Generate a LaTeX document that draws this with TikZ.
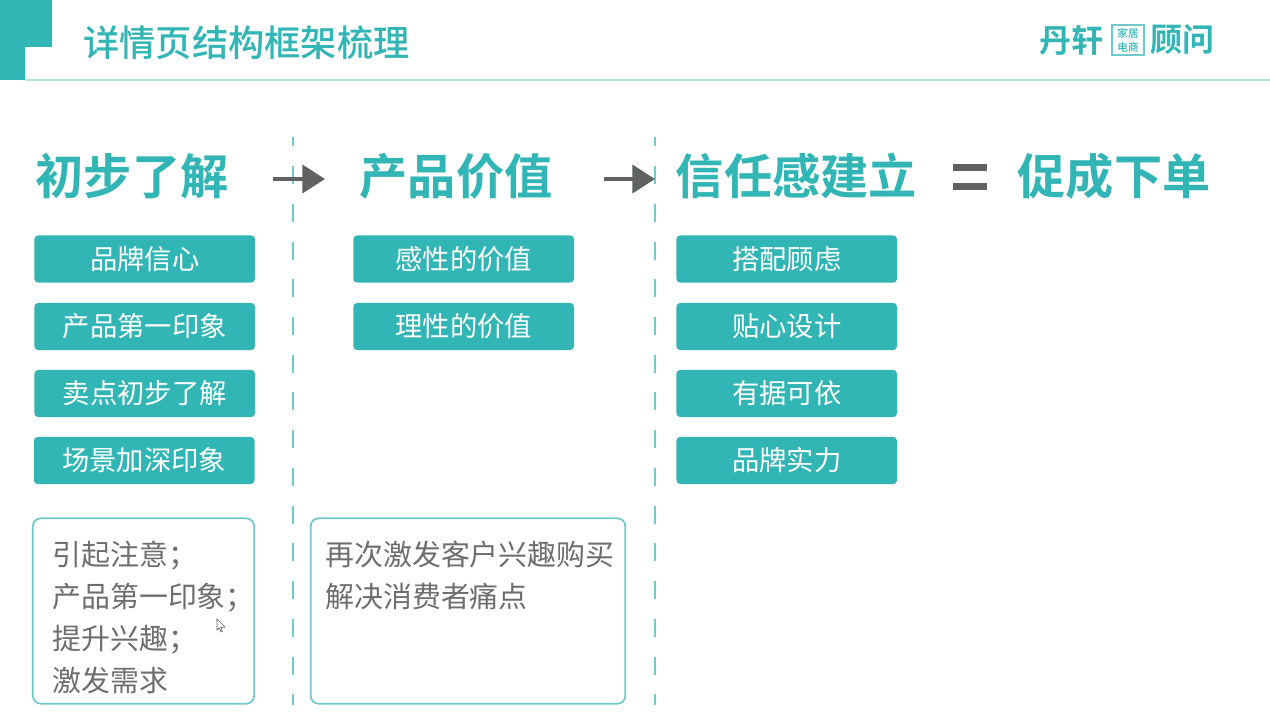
\documentclass[tikz,border=0pt]{standalone}
\usepackage{fontspec}
\usetikzlibrary{arrows.meta}
\setmainfont{Noto Sans CJK SC}[BoldFont={Noto Sans CJK SC Bold}]
\newfontfamily\medcjk{Noto Sans CJK SC Medium}
\definecolor{teal1}{HTML}{32B5B5}
\definecolor{rule1}{HTML}{B5E3E3}
\definecolor{edge1}{HTML}{6FC9CB}
\definecolor{dash1}{HTML}{6CCBCD}
\definecolor{gray1}{HTML}{5F6260}
\definecolor{text1}{HTML}{6E6E6E}
\tikzset{
  x=0.75pt,y=-0.75pt,
  head/.style={font=\fontsize{36.2}{36.2}\selectfont\bfseries,text=teal1,inner sep=0pt},
  tag/.style={fill=teal1,rounded corners=3pt,minimum width=165.5pt,minimum height=35.5pt,inner sep=0pt,text=white,font=\fontsize{20.5}{20.5}\selectfont},
  notebox/.style={draw=edge1,line width=1.3pt,fill=white,rounded corners=6pt,inner sep=0pt},
  note/.style={text=text1,font=\fontsize{21.7}{31.5}\selectfont,inner sep=0pt,anchor=north west,align=left},
  divider/.style={draw=dash1,line width=1.5pt,dash pattern=on 13.5pt off 14.8pt,dash phase=6.5pt},
  flow/.style={draw=gray1,line width=3pt,-{Triangle[length=17pt,width=21pt]},shorten >=0pt},
}
\begin{document}
\begin{tikzpicture}
\useasboundingbox (0,0) rectangle (1270,717);
\fill[white] (0,0) rectangle (1270,717);
% header
\fill[teal1] (0,0) -- (52,0) -- (52,47) -- (25,47) -- (25,80) -- (0,80) -- cycle;
\draw[rule1,line width=1.2pt] (25,80) -- (1270,80);
\node[inner sep=0pt,anchor=west,text=teal1,font=\fontsize{27.2}{27.2}\selectfont\medcjk] (title) at (83,43) {详情页结构框架梳理};
% logo
\node[inner sep=0pt,anchor=west,text=teal1,font=\fontsize{24}{24}\selectfont\bfseries] (logoa) at (1039,40) {丹轩};
\node[inner sep=0pt,anchor=west,text=teal1,font=\fontsize{24}{24}\selectfont\bfseries] (logob) at (1150,40) {顾问};
\node[draw=edge1,line width=1.6pt,minimum width=24pt,minimum height=22pt,inner sep=0pt,text=teal1,align=center,font=\fontsize{8}{10.5}\selectfont\medcjk] (logoc) at (1128,40) {家居\\电商};
% dividers
\coordinate (d1a) at (293,137); \coordinate (d1b) at (293,705);
\coordinate (d2a) at (655,137); \coordinate (d2b) at (655,705);
\draw[divider] (d1a) -- (d1b);
\draw[divider] (d2a) -- (d2b);
% headings
\node[head] (h1) at (132,176) {初步了解};
\node[head] (h2) at (456,176) {产品价值};
\node[head] (h3) at (796.5,176) {信任感建立};
\node[head] (h4) at (1114,176) {促成下单};
\node[inner sep=0pt] (eq) at (970,176) {};
\fill[gray1] (953,163.5) rectangle (987,170.5);
\fill[gray1] (953,182.5) rectangle (987,189.5);
% arrows
\coordinate (a1s) at (273,179); \coordinate (a1e) at (325,179);
\coordinate (a2s) at (604,179); \coordinate (a2e) at (655,179);
\draw[flow] (a1s) -- (a1e);
\draw[flow] (a2s) -- (a2e);
% column 1
\node[tag] (c11) at (144.7,259) {品牌信心};
\node[tag] (c12) at (144.7,326.5) {产品第一印象};
\node[tag] (c13) at (144.7,393.5) {卖点初步了解};
\node[tag] (c14) at (144.2,460.5) {场景加深印象};
% column 2
\node[tag] (c21) at (463.7,259) {感性的价值};
\node[tag] (c22) at (463.7,326.5) {理性的价值};
% column 3
\node[tag] (c31) at (786.7,259) {搭配顾虑};
\node[tag] (c32) at (786.7,326.5) {贴心设计};
\node[tag] (c33) at (786.7,393.5) {有据可依};
\node[tag] (c34) at (786.7,460.5) {品牌实力};
% notes
\node[notebox,minimum width=166pt,minimum height=139pt] (n1) at (143.5,611) {};
\node[notebox,minimum width=236pt,minimum height=139pt] (n2) at (468,611) {};
\node[note] (t1) at (52,541) {引起注意；\\产品第一印象；\\提升兴趣；\\激发需求};
\node[note] (t2) at (325,541) {再次激发客户兴趣购买\\解决消费者痛点};
% cursor
\draw[gray1,line width=0.5pt,fill=white] (217,619) -- (217,630) -- (219.5,628) -- (221,632) -- (222.5,631) -- (221,627.5) -- (225,627) -- cycle;
\end{tikzpicture}
\end{document}
